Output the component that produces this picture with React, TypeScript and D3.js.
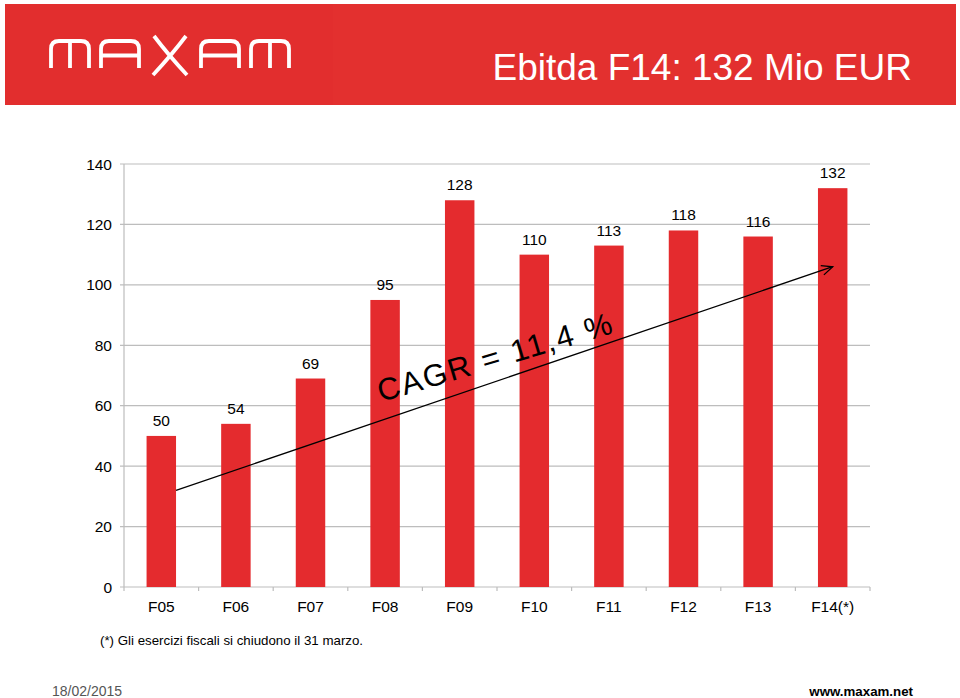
import React from "react";
import * as d3 from "d3";

const categories = ["F05", "F06", "F07", "F08", "F09", "F10", "F11", "F12", "F13", "F14(*)"];
const ebitda = [50, 54, 69, 95, 128, 110, 113, 118, 116, 132];
const yTicks = [0, 20, 40, 60, 80, 100, 120, 140];
const trendFrom = 32;
const trendTo = 106;
const cagrAnchorValue = 61.2;
const cagrLabel = "CAGR = 11,4 %";
const titleText = "Ebitda F14: 132 Mio EUR";
const footnoteText = "(*) Gli esercizi fiscali si chiudono il 31 marzo.";
const dateText = "18/02/2015";
const siteText = "www.maxam.net";

const FONT = "'Liberation Sans', Arial, Helvetica, sans-serif";
const RED = "#E42B2E";
const HEADER_RED = "#E3302F";

function logoPaths(): string[] {
  const t = 41, b = 68, r = 8, w = 38, gap = 12;
  const out: string[] = [];
  const kinds = ["m", "a", "x", "a", "m"];
  kinds.forEach((k, i) => {
    const x0 = 51 + i * (w + gap);
    const p = d3.path();
    if (k === "x") {
      p.moveTo(x0 + 3, t - 5);
      p.quadraticCurveTo(x0 + w / 2 - 2, (t + b) / 2, x0 + w - 2, b + 7);
      p.moveTo(x0 + w - 3, t - 5);
      p.quadraticCurveTo(x0 + w / 2 + 2, (t + b) / 2, x0 + 2, b + 7);
    } else {
      p.moveTo(x0, b);
      p.lineTo(x0, t + r);
      p.quadraticCurveTo(x0, t, x0 + r, t);
      p.lineTo(x0 + w - r, t);
      p.quadraticCurveTo(x0 + w, t, x0 + w, t + r);
      p.lineTo(x0 + w, b);
      if (k === "m") {
        p.moveTo(x0 + w / 2, t);
        p.lineTo(x0 + w / 2, b);
      } else {
        p.moveTo(x0, (t + b) / 2 + 1);
        p.lineTo(x0 + w, (t + b) / 2 + 1);
      }
    }
    out.push(p.toString());
  });
  return out;
}

export default function App() {
  const W = 960, H = 698;
  const x = d3.scaleBand<string>().domain(categories).range([124, 870]).padding(0);
  const y = d3.scaleLinear().domain([0, 140]).range([587, 164]);
  const step = x.bandwidth();
  const bw = step * 0.395;
  const cx = (c: string) => (x(c) as number) + step / 2;

  const x1 = cx(categories[0]) + bw / 2;
  const y1 = y(trendFrom);
  const x2 = cx(categories[categories.length - 1]);
  const y2 = y(trendTo);
  const ang = Math.atan2(y2 - y1, x2 - x1);
  const headLen = 12, headAng = (24 * Math.PI) / 180;
  const hA = [x2 - headLen * Math.cos(ang - headAng), y2 - headLen * Math.sin(ang - headAng)];
  const hB = [x2 - headLen * Math.cos(ang + headAng), y2 - headLen * Math.sin(ang + headAng)];

  const cagrX = cx(categories[3]) - 4;
  const cagrY = y(cagrAnchorValue);

  const boundaries = [...categories.map((c) => x(c) as number), 870];

  return (
    <div style={{ position: "absolute", left: 0, top: 0 }}>
      <svg width={W} height={H} style={{ display: "block", background: "#fff" }}>
        {/* header */}
        <rect x={5} y={4} width={328} height={101} fill="#E22E2E" />
        <rect x={333} y={4} width={623} height={101} fill={HEADER_RED} />
        <g fill="none" stroke="#fff" strokeWidth={3.8} strokeLinecap="butt">
          {logoPaths().map((d, i) => (
            <path key={i} d={d} />
          ))}
        </g>
        <text x={912} y={80} textAnchor="end" fill="#fff" fontFamily={FONT} fontSize={37}>
          {titleText}
        </text>

        {/* gridlines */}
        <g>
          {yTicks.map((v) => (
            <line key={v} x1={120} x2={870} y1={y(v)} y2={y(v)} stroke="#BDBDBD" strokeWidth={1.2} />
          ))}
          <line x1={124} x2={124} y1={y(140)} y2={y(0)} stroke="#BDBDBD" strokeWidth={1.2} />
          {boundaries.map((bx, i) => (
            <line key={i} x1={bx} x2={bx} y1={y(0)} y2={y(0) + 4} stroke="#BDBDBD" strokeWidth={1.2} />
          ))}
        </g>
        {/* y tick labels */}
        <g fontFamily={FONT} fontSize={15.5} fill="#000">
          {yTicks.map((v) => (
            <text key={v} x={112} y={y(v) + 5.5} textAnchor="end">
              {v}
            </text>
          ))}
        </g>

        {/* bars */}
        <g>
          {categories.map((c, i) => (
            <rect key={c} x={cx(c) - bw / 2} y={y(ebitda[i])} width={bw} height={y(0) - y(ebitda[i])} fill={RED} />
          ))}
        </g>
        {/* value labels */}
        <g fontFamily={FONT} fontSize={15.5} fill="#000" textAnchor="middle">
          {categories.map((c, i) => (
            <text key={c} x={cx(c)} y={y(ebitda[i]) - 10}>
              {ebitda[i]}
            </text>
          ))}
        </g>
        {/* category labels */}
        <g fontFamily={FONT} fontSize={15.5} fill="#000" textAnchor="middle">
          {categories.map((c) => (
            <text key={c} x={cx(c)} y={612}>
              {c}
            </text>
          ))}
        </g>

        {/* trend arrow */}
        <g stroke="#000" strokeWidth={1.3} fill="none">
          <line x1={x1} y1={y1} x2={x2} y2={y2} />
          <polyline points={`${hA[0]},${hA[1]} ${x2},${y2} ${hB[0]},${hB[1]}`} />
        </g>
        <text
          x={cagrX}
          y={cagrY}
          transform={`rotate(-16.5 ${cagrX} ${cagrY})`}
          fontFamily={FONT}
          fontSize={31}
          letterSpacing={2}
          fill="#000"
        >
          {cagrLabel}
        </text>

        {/* footer */}
        <text x={100} y={645} fontFamily={FONT} fontSize={13.3} fill="#000">
          {footnoteText}
        </text>
        <text x={52} y={696} fontFamily={FONT} fontSize={14} fill="#555">
          {dateText}
        </text>
        <text x={913} y={696} textAnchor="end" fontFamily={FONT} fontSize={13.3} fontWeight="bold" fill="#000">
          {siteText}
        </text>
      </svg>
    </div>
  );
}
